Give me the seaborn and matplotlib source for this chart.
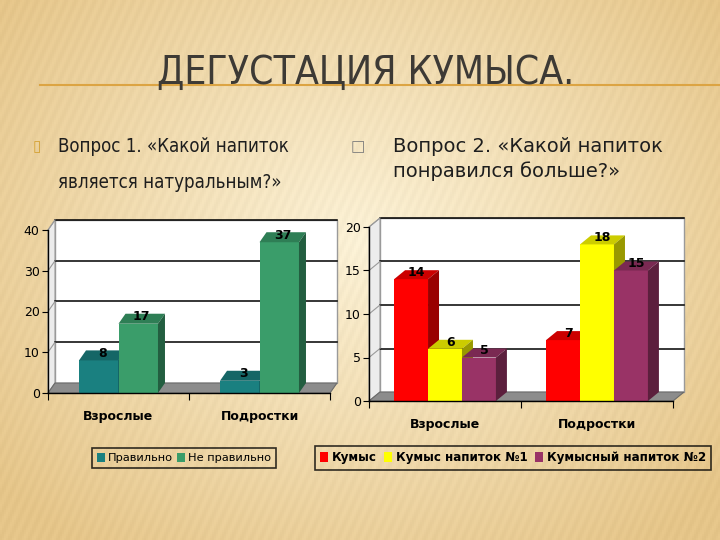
import numpy as np
import pandas as pd
import seaborn as sns
import matplotlib.pyplot as plt
import matplotlib.colors as mcolors
from matplotlib.patches import Polygon, Patch
from matplotlib.lines import Line2D
from matplotlib.transforms import IdentityTransform

# data
groups = ["Взрослые", "Подростки"]

q1_series = ["Правильно", "Не правильно"]
q1_correct = [8, 3]
q1_wrong = [17, 37]
q1_colors = ["#1a8080", "#3a9d6a"]

q2_series = ["Кумыс", "Кумыс напиток №1", "Кумысный напиток №2"]
q2_kumys = [14, 7]
q2_drink1 = [6, 18]
q2_drink2 = [5, 15]
q2_colors = ["#ff0000", "#ffff00", "#993366"]

df1 = pd.DataFrame({
    "group": groups * 2,
    "series": [q1_series[0]] * 2 + [q1_series[1]] * 2,
    "value": q1_correct + q1_wrong,
})
df2 = pd.DataFrame({
    "group": groups * 3,
    "series": [q2_series[0]] * 2 + [q2_series[1]] * 2 + [q2_series[2]] * 2,
    "value": q2_kumys + q2_drink1 + q2_drink2,
})

plt.rcParams['font.family'] = ['DejaVu Sans']

fig = plt.figure(figsize=(7.2, 5.4), dpi=100)

# background gradient (decoration only)
bg = fig.add_axes([0, 0, 1, 1], zorder=-10)
yy, xx = np.mgrid[0:1:270j, 0:1:360j]
t = np.clip(np.sqrt(((xx - 0.5) / 0.65) ** 2 + ((yy - 0.45) / 0.7) ** 2), 0, 1)
c_in = np.array(mcolors.to_rgb("#fbf1d6"))
c_out = np.array(mcolors.to_rgb("#e5c589"))
img = c_in * (1 - t[..., None]) + c_out * t[..., None]
stripes = 0.012 * np.sin((xx * 360 + yy * 120) * 1.3)
img = np.clip(img + stripes[..., None], 0, 1)
bg.imshow(img, aspect="auto", extent=[0, 1, 0, 1])
bg.axis("off")


def darker(c, f):
    r, g, b = mcolors.to_rgb(c)
    return (r * f, g * f, b * f)


def to_px(ax, x, y):
    return ax.transData.transform((x, y))


def poly(ax, pts, fc, ec="none", lw=0, z=1):
    ax.add_patch(Polygon(pts, closed=True, facecolor=fc, edgecolor=ec, lw=lw,
                         transform=IdentityTransform(), clip_on=False, zorder=z))


def chart3d(ax, df, series, colors, ymax, step, dx, dy, width):
    sns.barplot(data=df, x="group", y="value", hue="series", hue_order=series,
                order=groups, palette=colors, saturation=1, width=width,
                legend=False, ax=ax, linewidth=0, edgecolor="none")
    ax.set_xlim(-0.5, 1.5)
    ax.set_ylim(0, ymax)
    ax.set_facecolor("none")
    ax.set_xlabel("")
    ax.set_ylabel("")

    # walls and floor
    (x0, y0), (x1, y1) = to_px(ax, -0.5, 0), to_px(ax, 1.5, ymax)
    poly(ax, [(x0 + dx, y0 + dy), (x1 + dx, y0 + dy), (x1 + dx, y1 + dy), (x0 + dx, y1 + dy)],
         "white", "#9a9a9a", 1, 0.3)
    poly(ax, [(x0, y0), (x0 + dx, y0 + dy), (x0 + dx, y1 + dy), (x0, y1)],
         "#ececec", "#9a9a9a", 0.8, 0.35)
    poly(ax, [(x0, y0), (x1, y0), (x1 + dx, y0 + dy), (x0 + dx, y0 + dy)],
         "#8c8c8c", "#6a6a6a", 0.8, 0.4)
    for v in np.arange(step, ymax + step / 2, step):
        _, yv = to_px(ax, 0, v)
        ax.add_line(Line2D([x0 + dx, x1 + dx], [yv + dy, yv + dy], color="black", lw=1.1,
                           transform=IdentityTransform(), clip_on=False, zorder=0.5))
        ax.add_line(Line2D([x0, x0 + dx], [yv, yv + dy], color="#9a9a9a", lw=0.8,
                           transform=IdentityTransform(), clip_on=False, zorder=0.5))

    # 3d faces for each bar
    for i, cont in enumerate(ax.containers):
        col = colors[i]
        for bar in cont:
            bx = bar.get_x()
            bw = bar.get_width()
            h = bar.get_height()
            (a0, b0), (a1, b1) = to_px(ax, bx, 0), to_px(ax, bx + bw, h)
            z = 2 + i * 0.1
            bar.set_zorder(z)
            poly(ax, [(a0, b1), (a1, b1), (a1 + dx, b1 + dy), (a0 + dx, b1 + dy)],
                 darker(col, 0.8), z=z)
            poly(ax, [(a1, b0), (a1, b1), (a1 + dx, b1 + dy), (a1 + dx, b0 + dy)],
                 darker(col, 0.6), z=z)
            ax.text((a0 + a1) / 2 + dx / 2, b1 + dy / 2 + 2, f"{h:g}",
                    transform=IdentityTransform(), ha="center", va="center",
                    fontsize=9, fontweight="bold", zorder=5)

    for s in ["top", "right"]:
        ax.spines[s].set_visible(False)
    for s in ["left", "bottom"]:
        ax.spines[s].set_color("black")
        ax.spines[s].set_linewidth(1)
        ax.spines[s].set_zorder(6)
    ax.set_yticks(np.arange(0, ymax + step / 2, step))
    ax.tick_params(axis="y", length=4, color="black", labelsize=9, pad=2)
    ax.set_xticks([-0.5, 0.5, 1.5])
    ax.set_xticklabels([])
    ax.set_xticks([0, 1], minor=True)
    ax.set_xticklabels(groups, minor=True, fontsize=9, fontweight="bold")
    ax.tick_params(axis="x", which="major", length=5, color="black")
    ax.tick_params(axis="x", which="minor", length=0, pad=12)


ax1 = fig.add_axes([48 / 720, 1 - 393 / 540, 282 / 720, 163 / 540])
chart3d(ax1, df1, q1_series, q1_colors, 40, 10, 7, 10, 0.56)

ax2 = fig.add_axes([369 / 720, 1 - 401 / 540, 304 / 720, 174 / 540])
chart3d(ax2, df2, q2_series, q2_colors, 20, 5, 11, 9, 0.67)

# legends
h1 = [Patch(facecolor=c, edgecolor="none") for c in q1_colors]
leg1 = fig.legend(h1, q1_series, loc="center", bbox_to_anchor=(184 / 720, 1 - 458 / 540),
                  ncol=2, frameon=True, fancybox=False, edgecolor="black",
                  facecolor="none", handlelength=0.7, handleheight=0.9,
                  handletextpad=0.25, columnspacing=0.4, borderpad=0.45,
                  prop={"size": 8.2})
leg1.get_frame().set_linewidth(1.2)
h2 = [Patch(facecolor=c, edgecolor="none") for c in q2_colors]
leg2 = fig.legend(h2, q2_series, loc="center", bbox_to_anchor=(513 / 720, 1 - 458 / 540),
                  ncol=3, frameon=True, fancybox=False, edgecolor="black",
                  facecolor="none", handlelength=0.7, handleheight=0.9,
                  handletextpad=0.3, columnspacing=0.6, borderpad=0.45,
                  prop={"weight": "bold", "size": 8.6})
leg2.get_frame().set_linewidth(1.2)

# title and text
cond = {"family": "DejaVu Sans", "fontstretch": "condensed"}
fig.add_artist(Line2D([40 / 720, 1], [1 - 85 / 540] * 2, color="#dca443", lw=1.5, zorder=1))
fig.text(366 / 720, 1 - 84 / 540, "ДЕГУСТАЦИЯ КУМЫСА.", ha="center", va="baseline",
         fontsize=28, color="#3d3a35", zorder=2, **cond)

fig.text(37 / 720, 1 - 147 / 540, "▯", ha="center", va="center", fontsize=11, color="#d4a030")
fig.text(58 / 720, 1 - 146 / 540, "Вопрос 1. «Какой напиток", ha="left", va="center",
         fontsize=13.4, color="#1e1e1e", **cond)
fig.text(58 / 720, 1 - 183 / 540, "является натуральным?»", ha="left", va="center",
         fontsize=13.4, color="#1e1e1e", **cond)
fig.text(358 / 720, 1 - 147 / 540, "□", ha="center", va="center", fontsize=11, color="#7a7a7a")
fig.text(393 / 720, 1 - 146 / 540, "Вопрос 2. «Какой напиток", ha="left", va="center",
         fontsize=14, color="#1e1e1e")
fig.text(393 / 720, 1 - 171 / 540, "понравился больше?»", ha="left", va="center",
         fontsize=14, color="#1e1e1e")

fig.savefig("out.png", dpi=100)
